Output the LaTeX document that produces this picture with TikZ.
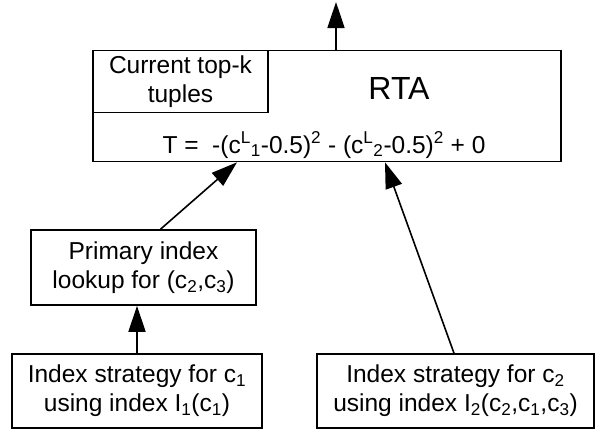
\documentclass[tikz,border=0pt]{standalone}
\usepackage{fontspec}
\setmainfont{Liberation Sans}
\usetikzlibrary{arrows.meta}
\begin{document}
\begin{tikzpicture}[x=1pt,y=-1pt,
  box/.style={draw,line width=1.6pt,inner sep=0pt,align=center,font=\fontsize{24.5}{29}\selectfont},
  txt/.style={inner sep=0pt,align=center,font=\fontsize{24.5}{29}\selectfont},
  arr/.style={line width=1.6pt,-{Triangle[length=26pt,width=17pt]}}]
\useasboundingbox (0,0) rectangle (595,431);
% RTA box
\node[box,minimum width=468pt,minimum height=111pt] (rta) at (327,106) {};
\node[box,minimum width=175pt,minimum height=62pt,anchor=north west] (topk) at (rta.north west) {Current top-k\\tuples};
\node[txt,font=\fontsize{32}{36}\selectfont] (rtalabel) at (399,88) {RTA};
\node[txt,anchor=base] (formula) at (324,153) {T =\ \ -(c\textsuperscript{L}\textsubscript{1}-0.5)\textsuperscript{2} - (c\textsuperscript{L}\textsubscript{2}-0.5)\textsuperscript{2} + 0};
% Lower boxes
\node[box,minimum width=225pt,minimum height=75pt] (prim) at (143.5,267.5) {Primary index\\lookup for (c\textsubscript{2},c\textsubscript{3})};
\node[box,minimum width=250pt,minimum height=74pt] (b1) at (137,391) {Index strategy for c\textsubscript{1}\\using index I\textsubscript{1}(c\textsubscript{1})};
\node[box,minimum width=277pt,minimum height=74pt] (b2) at (455.5,391) {Index strategy for c\textsubscript{2}\\using index I\textsubscript{2}(c\textsubscript{2},c\textsubscript{1},c\textsubscript{3})};
% Connectors
\coordinate (out) at (336,2);
\draw[arr] (rta.north -| out) -- (out);
\draw[arr] (b1.north) -- (b1.north |- prim.south);
\draw[arr] ([xshift=17pt]prim.north) -- ([xshift=-90pt]rta.south);
\draw[arr] ([xshift=-1.5pt]b2.north) -- ([xshift=58pt]rta.south);
\end{tikzpicture}
\end{document}
